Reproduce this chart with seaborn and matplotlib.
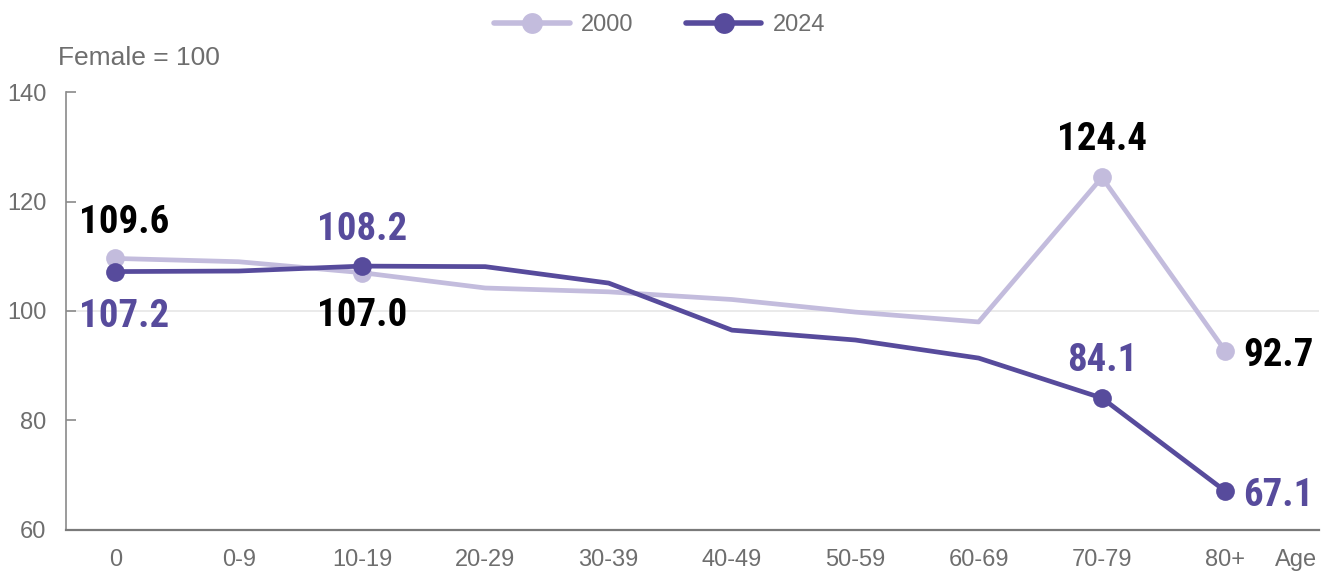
import matplotlib.pyplot as plt
import numpy as np
import pandas as pd
import seaborn as sns
from matplotlib import font_manager
from matplotlib.lines import Line2D

ages = ["0", "0-9", "10-19", "20-29", "30-39", "40-49", "50-59", "60-69", "70-79", "80+"]
ratio_2000 = [109.6, 109.0, 107.0, 104.2, 103.5, 102.1, 99.8, 98.0, 124.4, 92.7]
ratio_2024 = [107.2, 107.3, 108.2, 108.1, 105.1, 96.5, 94.7, 91.4, 84.1, 67.1]

LIGHT = "#c3bcdd"
DARK = "#574b9c"
GRAY = "#6e6e6e"

sns.set_theme(style="white")
plt.rcParams["font.family"] = ["Liberation Sans", "DejaVu Sans"]

# condensed bold face for the value labels, whichever is installed
installed = {f.name for f in font_manager.fontManager.ttflist}
narrow = next((n for n in ["Roboto Condensed", "Liberation Sans Narrow", "Open Sans Condensed"]
               if n in installed), None)
if narrow:
    label_font = dict(family=[narrow, "DejaVu Sans"], fontweight="bold", fontsize=28)
else:
    label_font = dict(family=["DejaVu Sans"], fontweight="bold", fontstretch="condensed", fontsize=26)

df = pd.DataFrame(
    {
        "pos": list(range(len(ages))) * 2,
        "ratio": ratio_2000 + ratio_2024,
        "year": ["2000"] * len(ages) + ["2024"] * len(ages),
    }
)

fig = plt.figure(figsize=(13.33, 5.74), dpi=100)
ax = fig.add_axes([0.0495, 0.0767, 0.94, 0.763])

marked = [0, 2, 8, 9]
for year, color in [("2000", LIGHT), ("2024", DARK)]:
    sns.lineplot(
        data=df[df["year"] == year],
        x="pos",
        y="ratio",
        color=color,
        linewidth=3.4,
        marker="o",
        markersize=13.5,
        markeredgewidth=0,
        markevery=marked,
        ax=ax,
        legend=False,
    )

ax.axhline(100, color="#e6e6e6", linewidth=1.2, zorder=0)

ax.set_ylim(60, 140)
ax.set_xlim(-0.4, 9.76)
ax.set_yticks([60, 80, 100, 120, 140])
ax.set_xticks(range(len(ages)))
ax.set_xticklabels(ages)
ax.set_xlabel("")
ax.set_ylabel("")
ax.tick_params(axis="y", colors="#8a8a8a", labelcolor=GRAY, labelsize=17, length=7, width=1.2,
               pad=14, direction="in", left=True)
ax.tick_params(axis="x", colors=GRAY, labelsize=17, length=0, pad=14)

for side in ["top", "right"]:
    ax.spines[side].set_visible(False)
ax.spines["left"].set_color("#8a8a8a")
ax.spines["left"].set_linewidth(1.2)
ax.spines["bottom"].set_color("#7a7a7a")
ax.spines["bottom"].set_linewidth(1.6)

fig.text(1275 / 1333, 1 - 560 / 574, "Age", ha="left", va="center", color=GRAY, fontsize=17)
fig.text(58 / 1333, 1 - 58 / 574, "Female = 100", ha="left", va="center", color=GRAY, fontsize=19)

# (series, index, dx, dy, color) offsets in points
labels = [
    (ratio_2000, 0, 6, 26, "black"),
    (ratio_2024, 0, 6, -32, DARK),
    (ratio_2024, 2, 0, 26, DARK),
    (ratio_2000, 2, 0, -31, "black"),
    (ratio_2000, 8, 0, 27, "black"),
    (ratio_2024, 8, 0, 27, DARK),
]
for series, i, dx, dy, color in labels:
    ax.annotate(f"{series[i]:.1f}", (i, series[i]), xytext=(dx, dy), textcoords="offset points",
                ha="center", va="center", color=color, **label_font)
for series, color in [(ratio_2000, "black"), (ratio_2024, DARK)]:
    ax.annotate(f"{series[9]:.1f}", (9, series[9]), xytext=(13, -3), textcoords="offset points",
                ha="left", va="center", color=color, **label_font)

handles = [
    Line2D([], [], color=LIGHT, linewidth=4, marker="o", markersize=15, markeredgewidth=0),
    Line2D([], [], color=DARK, linewidth=4, marker="o", markersize=15, markeredgewidth=0),
]
leg = fig.legend(handles, ["2000", "2024"], loc="center", bbox_to_anchor=(0.495, 1 - 25 / 574),
                 ncol=2, frameon=False, fontsize=17, handlelength=3.2, columnspacing=2.2,
                 handletextpad=0.5)
for t in leg.get_texts():
    t.set_color(GRAY)

fig.savefig("out.png", dpi=100)
